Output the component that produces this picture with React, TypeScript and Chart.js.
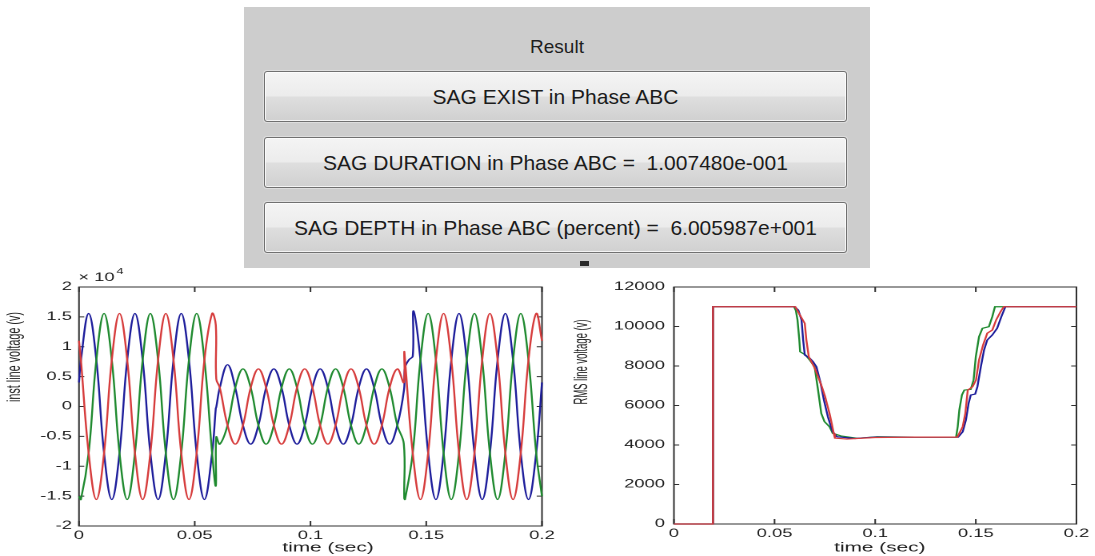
import React, { useEffect, useRef } from "react";
import { Chart, registerables } from "chart.js";

Chart.register(...registerables);

const STRETCH = 1.6;
const FONT = '"Liberation Sans", Arial, Helvetica, sans-serif';
const BLUE = "#1d1d9b";
const GREEN = "#1f8a2f";
const RED = "#d63c3c";

// ---------- result panel texts ----------
const panelTitle = "Result";
const resultLines = [
  "SAG EXIST in Phase ABC",
  "SAG DURATION in Phase ABC =  1.007480e-001",
  "SAG DEPTH in Phase ABC (percent) =  6.005987e+001",
];

// ---------- axis ticks ----------
const timeTicks = [0, 0.05, 0.1, 0.15, 0.2];
const timeTickLabels = ["0", "0.05", "0.1", "0.15", "0.2"];
const instTicks = [-20000, -15000, -10000, -5000, 0, 5000, 10000, 15000, 20000];
const instTickLabels = ["-2", "-1.5", "-1", "-0.5", "0", "0.5", "1", "1.5", "2"];
const rmsTicks = [0, 2000, 4000, 6000, 8000, 10000, 12000];
const rmsTickLabels = ["0", "2000", "4000", "6000", "8000", "10000", "12000"];

// ---------- instantaneous line voltage (V), read at common sample times (s) ----------
const waveTime = [
  0.00083, 0.00417, 0.0075, 0.01083, 0.01417, 0.0175,
  0.02083, 0.02417, 0.0275, 0.03083, 0.03417, 0.0375,
  0.04083, 0.04417, 0.0475, 0.05083, 0.05417, 0.0575,
  0.06083, 0.06417, 0.0675, 0.07083, 0.07417, 0.0775,
  0.08083, 0.08417, 0.0875, 0.09083, 0.09417, 0.0975,
  0.10083, 0.10417, 0.1075, 0.11083, 0.11417, 0.1175,
  0.12083, 0.12417, 0.1275, 0.13083, 0.13417, 0.1375,
  0.14083, 0.14417, 0.1475, 0.15083, 0.15417, 0.1575,
  0.16083, 0.16417, 0.1675, 0.17083, 0.17417, 0.1775,
  0.18083, 0.18417, 0.1875, 0.19083, 0.19417, 0.1975,
];
const phaseAInst = [
  7780, 15560, 7780, -7780, -15560, -7780,
  7780, 15560, 7780, -7780, -15560, -7780,
  7780, 15560, 7780, -7780, -15560, -7780,
  3150, 7000, 3150, -3150, -6300, -3150,
  3150, 6300, 3150, -3150, -6300, -3150,
  3150, 6300, 3150, -3150, -6300, -3150,
  3150, 6300, 3150, -3150, -6300, -3150,
  6500, 8400, 7780, -7780, -15560, -7780,
  7780, 15560, 7780, -7780, -15560, -7780,
  7780, 15560, 7780, -7780, -15560, -7780,
];
const phaseBInst = [
  -15560, -7780, 7780, 15560, 7780, -7780,
  -15560, -7780, 7780, 15560, 7780, -7780,
  -15560, -7780, 7780, 15560, 7780, -7780,
  -6300, -3150, 3150, 6300, 3150, -3150,
  -6300, -3150, 3150, 6300, 3150, -3150,
  -6300, -3150, 3150, 6300, 3150, -3150,
  -6300, -3150, 3150, 6300, 3150, -3150,
  -15560, -7780, 7780, 15560, 7780, -7780,
  -15560, -7780, 7780, 15560, 7780, -7780,
  -15560, -7780, 7780, 15560, 7780, -7780,
];
const phaseCInst = [
  7780, -7780, -15560, -7780, 7780, 15560,
  7780, -7780, -15560, -7780, 7780, 15560,
  7780, -7780, -15560, -7780, 7780, 15560,
  3150, -3150, -6300, -3150, 3150, 6300,
  3150, -3150, -6300, -3150, 3150, 6300,
  3150, -3150, -6300, -3150, 3150, 6300,
  3150, -3150, -6300, -3150, 3150, 6300,
  7780, -7780, -15560, -7780, 7780, 15560,
  7780, -7780, -15560, -7780, 7780, 15560,
  7780, -7780, -15560, -7780, 7780, 15560,
];
// end points and sag start / recovery edges
const phaseAEdgeTime = [0, 0.0591, 0.0593, 0.1404, 0.1425, 0.1445, 0.2];
const phaseAEdgeInst = [4030, -300, -100, 2800, 7800, 16000, 4030];
const phaseBEdgeTime = [0, 0.0591, 0.0593, 0.1403, 0.1405, 0.2];
const phaseBEdgeInst = [-15030, -13300, -5100, -6210, -15340, -15030];
const phaseCEdgeTime = [0, 0.0591, 0.0593, 0.1403, 0.1405, 0.2];
const phaseCEdgeInst = [11000, 13630, 4600, 4000, 9150, 11000];

// ---------- RMS line voltage (V) ----------
const rmsATime = [0, 0.0193, 0.0194, 0.06, 0.0618, 0.0634, 0.0642, 0.065, 0.0675, 0.0691, 0.0708, 0.0729, 0.0745, 0.0765, 0.0778, 0.0789, 0.081, 0.09, 0.1, 0.12, 0.1412, 0.1435, 0.1451, 0.1464, 0.1475, 0.1497, 0.1508, 0.1525, 0.1541, 0.1557, 0.1582, 0.1606, 0.1627, 0.1647, 0.2];
const rmsAValue = [0, 0, 11000, 11000, 10830, 10330, 9320, 8560, 8390, 8220, 7960, 7120, 6280, 5430, 5010, 4670, 4420, 4330, 4400, 4400, 4400, 4670, 5270, 6100, 6530, 6580, 6950, 7960, 8810, 9320, 9570, 9910, 10500, 11000, 11000];
const rmsBTime = [0, 0.0193, 0.0194, 0.0597, 0.0606, 0.0614, 0.0623, 0.0627, 0.0654, 0.0675, 0.0699, 0.0716, 0.0732, 0.0748, 0.0773, 0.0789, 0.083, 0.0912, 0.101, 0.12, 0.1402, 0.141, 0.1418, 0.1431, 0.1443, 0.1475, 0.1489, 0.15, 0.1516, 0.1533, 0.1565, 0.1582, 0.1595, 0.2];
const rmsBValue = [0, 0, 11000, 11000, 10800, 10330, 9320, 8720, 8560, 8300, 7960, 6780, 5600, 5180, 4930, 4590, 4460, 4340, 4420, 4400, 4400, 4930, 5770, 6530, 6780, 6820, 7290, 8470, 9480, 9910, 9990, 10500, 11000, 11000];
const rmsCTime = [0, 0.0193, 0.0194, 0.0603, 0.0626, 0.065, 0.0658, 0.067, 0.0683, 0.07, 0.0716, 0.0735, 0.0751, 0.0773, 0.0784, 0.0794, 0.08, 0.086, 0.1, 0.12, 0.1408, 0.1435, 0.1448, 0.146, 0.1484, 0.1501, 0.1516, 0.1536, 0.1557, 0.1582, 0.1601, 0.1623, 0.1639, 0.2];
const rmsCValue = [0, 0, 11000, 11000, 10580, 10160, 9320, 8470, 8220, 7880, 7460, 6950, 6450, 5600, 5100, 4590, 4350, 4300, 4380, 4400, 4400, 4930, 5600, 6780, 6950, 7290, 8300, 9060, 9660, 9820, 10330, 10750, 11000, 11000];

type XY = { x: number; y: number };
function zip(t: number[], v: number[]): XY[] {
  return t.map((x, i) => ({ x, y: v[i] }));
}
function mergePoints(t1: number[], v1: number[], t2: number[], v2: number[]): XY[] {
  return zip(t1, v1).concat(zip(t2, v2)).sort((a, b) => a.x - b.x);
}

const axesPlugin = {
  id: "matlabAxes",
  beforeDatasetsDraw(chart: any, _args: any, o: any) {
    const { ctx, chartArea: a } = chart;
    const xs = chart.scales.x;
    const ys = chart.scales.y;
    ctx.save();
    ctx.strokeStyle = "#303030";
    ctx.lineWidth = 1;
    ctx.strokeRect(a.left, a.top, a.right - a.left, a.bottom - a.top);
    ctx.beginPath();
    xs.ticks.forEach((t: any) => {
      const p = xs.getPixelForValue(t.value);
      ctx.moveTo(p, a.bottom);
      ctx.lineTo(p, a.bottom - o.xTickLen);
      ctx.moveTo(p, a.top);
      ctx.lineTo(p, a.top + o.xTickLen);
    });
    ys.ticks.forEach((t: any) => {
      const p = ys.getPixelForValue(t.value);
      ctx.moveTo(a.left, p);
      ctx.lineTo(a.left + o.yTickLen, p);
      ctx.moveTo(a.right, p);
      ctx.lineTo(a.right - o.yTickLen, p);
    });
    ctx.stroke();
    ctx.restore();
  },
  afterDraw(chart: any, _args: any, o: any) {
    const { ctx } = chart;
    ctx.save();
    ctx.fillStyle = "#1e1e1e";
    ctx.font = `${o.xTitleSize}px ${FONT}`;
    ctx.textAlign = "center";
    ctx.textBaseline = "middle";
    ctx.fillText(o.xTitle, o.xTitleX, o.xTitleY);

    ctx.save();
    ctx.translate(o.yTitleX, o.yTitleY);
    ctx.rotate(-Math.PI / 2);
    ctx.font = `${o.yTitleSize}px ${FONT}`;
    const w = ctx.measureText(o.yTitle).width;
    ctx.scale(o.yTitleLen / w, 1);
    ctx.fillText(o.yTitle, 0, 0);
    ctx.restore();

    if (o.exponent) {
      ctx.textAlign = "left";
      ctx.font = `11.5px ${FONT}`;
      ctx.fillText("\u00d7 10", o.expX, o.expY);
      const ew = ctx.measureText("\u00d7 10").width;
      ctx.font = `8px ${FONT}`;
      ctx.fillText(o.exponent, o.expX + ew + 1, o.expY - 6);
    }
    ctx.restore();
  },
};

function axis(min: number, max: number, ticks: number[], labels: string[], isX: boolean, fit: number, pad: number) {
  return {
    type: "linear",
    min,
    max,
    grid: { display: false, drawTicks: false },
    border: { display: false },
    afterBuildTicks: (s: any) => {
      s.ticks = ticks.map((v) => ({ value: v }));
    },
    afterFit: (s: any) => {
      if (isX) s.height = fit;
      else s.width = fit;
    },
    ticks: {
      font: { family: FONT, size: 11.5 },
      color: "#1e1e1e",
      padding: pad,
      maxRotation: 0,
      minRotation: 0,
      autoSkip: false,
      callback: (_v: any, i: number) => labels[i],
    },
  };
}

function lineSet(data: XY[], color: string, tension: number) {
  return {
    data,
    borderColor: color,
    backgroundColor: color,
    borderWidth: 1.2,
    pointRadius: 0,
    tension,
    fill: false,
    clip: false,
  };
}

const CANVAS_TOP = 262;
const CANVAS_H = 294;

function instConfig(): any {
  return {
    type: "line",
    data: {
      datasets: [
        lineSet(mergePoints(waveTime, phaseCInst, phaseCEdgeTime, phaseCEdgeInst), RED, 0.4),
        lineSet(mergePoints(waveTime, phaseBInst, phaseBEdgeTime, phaseBEdgeInst), GREEN, 0.4),
        lineSet(mergePoints(waveTime, phaseAInst, phaseAEdgeTime, phaseAEdgeInst), BLUE, 0.4),
      ],
    },
    options: {
      responsive: false,
      animation: false,
      devicePixelRatio: 2,
      events: [],
      layout: { padding: { left: 0, top: 25, right: 11.25, bottom: 0 } },
      plugins: {
        legend: { display: false },
        tooltip: { enabled: false },
        matlabAxes: {
          xTickLen: 5,
          yTickLen: 3.3,
          xTitle: "time (sec)",
          xTitleSize: 13,
          xTitleX: 205,
          xTitleY: 286,
          yTitle: "inst line voltage (v)",
          yTitleSize: 12,
          yTitleLen: 90,
          yTitleX: 9.4,
          yTitleY: 95,
          exponent: "4",
          expX: 49,
          expY: 16,
        },
      },
      scales: {
        x: axis(0, 0.2, timeTicks, timeTickLabels, true, CANVAS_H - 264, 3),
        y: axis(-20000, 20000, instTicks, instTickLabels, false, 49.375, 4.4),
      },
    },
    plugins: [axesPlugin],
  };
}

function rmsConfig(): any {
  return {
    type: "line",
    data: {
      datasets: [
        lineSet(zip(rmsCTime, rmsCValue), RED, 0),
        lineSet(zip(rmsATime, rmsAValue), BLUE, 0),
        lineSet(zip(rmsBTime, rmsBValue), GREEN, 0),
      ],
    },
    options: {
      responsive: false,
      animation: false,
      devicePixelRatio: 2,
      events: [],
      layout: { padding: { left: 0, top: 25, right: 7.75, bottom: 0 } },
      plugins: {
        legend: { display: false },
        tooltip: { enabled: false },
        matlabAxes: {
          xTickLen: 5,
          yTickLen: 3.3,
          xTitle: "time (sec)",
          xTitleSize: 13,
          xTitleX: 200,
          xTitleY: 286,
          yTitle: "RMS line voltage (v)",
          yTitleSize: 12,
          yTitleLen: 85,
          yTitleX: 13.75,
          yTitleY: 100,
          exponent: "",
        },
      },
      scales: {
        x: axis(0, 0.2, timeTicks, timeTickLabels, true, CANVAS_H - 262, 3),
        y: axis(0, 12000, rmsTicks, rmsTickLabels, false, 71.25, 5.6),
      },
    },
    plugins: [axesPlugin],
  };
}

function Plot({ left, logicalW, build }: { left: number; logicalW: number; build: () => any }) {
  const ref = useRef<HTMLCanvasElement | null>(null);
  useEffect(() => {
    const c = ref.current;
    if (!c) return;
    const chart = new Chart(c, build());
    return () => chart.destroy();
  }, []);
  return (
    <canvas
      ref={ref}
      width={logicalW}
      height={CANVAS_H}
      style={{
        position: "absolute",
        left,
        top: CANVAS_TOP,
        width: `${logicalW * STRETCH}px`,
        height: `${CANVAS_H}px`,
        display: "block",
      }}
    />
  );
}

const buttonTops = [64, 130, 195];

export default function App() {
  return (
    <div
      style={{
        position: "absolute",
        left: 0,
        top: 0,
        width: 1095,
        height: 556,
        background: "#ffffff",
        overflow: "hidden",
      }}
    >
      <div
        style={{
          position: "absolute",
          left: 244,
          top: 7,
          width: 626,
          height: 261,
          background: "#cdcdcd",
        }}
      >
        <div
          style={{
            position: "absolute",
            left: 0,
            right: 0,
            top: 30,
            textAlign: "center",
            font: `19px ${FONT}`,
            lineHeight: "20px",
            color: "#1e1e1e",
          }}
        >
          {panelTitle}
        </div>
        {resultLines.map((txt, i) => (
          <div
            key={i}
            style={{
              position: "absolute",
              left: 20,
              top: buttonTops[i],
              width: 583,
              height: 51,
              boxSizing: "border-box",
              border: "1px solid #707070",
              borderRadius: 3,
              background:
                "linear-gradient(to bottom, #f4f4f4 0%, #ececec 48%, #dedede 52%, #d0d0d0 100%)",
              boxShadow: "inset 0 0 0 1px rgba(255,255,255,0.75), 0 0 0 1px rgba(255,255,255,0.35)",
              display: "flex",
              alignItems: "center",
              justifyContent: "center",
              font: `21px ${FONT}`,
              color: "#1c1c1c",
              whiteSpace: "pre",
            }}
          >
            {txt}
          </div>
        ))}
        <div
          style={{
            position: "absolute",
            left: 336,
            top: 254,
            width: 9,
            height: 5,
            background: "#2a2a2a",
          }}
        />
      </div>
      <Plot left={0} logicalW={350} build={instConfig} />
      <Plot left={560} logicalW={334} build={rmsConfig} />
    </div>
  );
}
